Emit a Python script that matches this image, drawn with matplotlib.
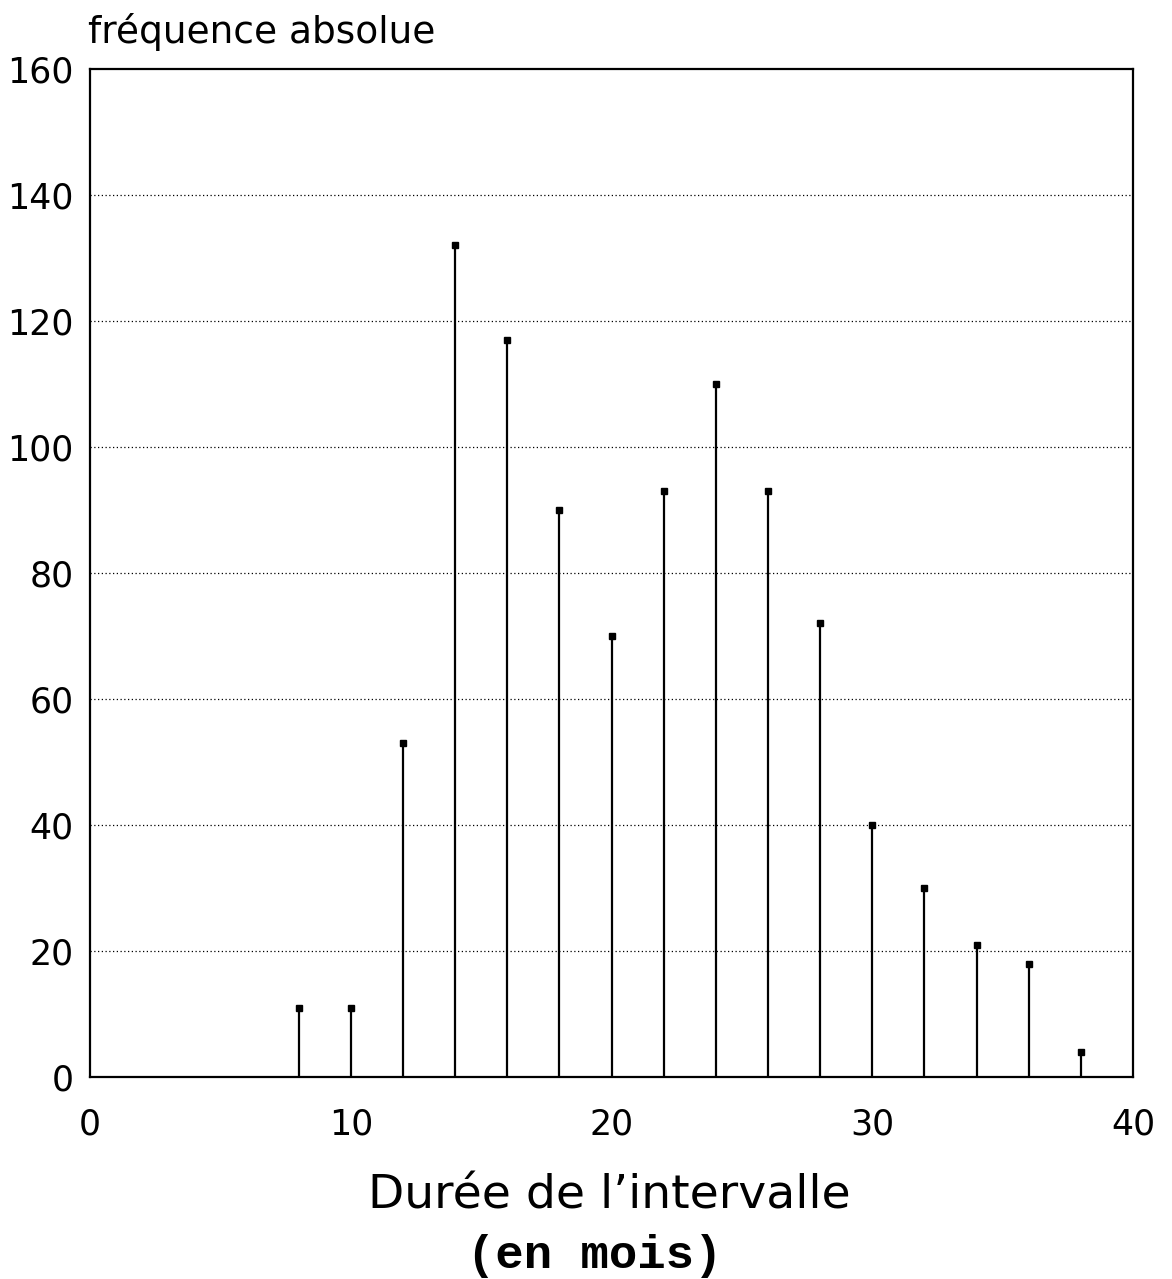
import matplotlib
matplotlib.use("Agg")
import matplotlib.pyplot as plt

durations = [8, 10, 12, 14, 16, 18, 20, 22, 24, 26, 28, 30, 32, 34, 36, 38]
frequencies = [11, 11, 53, 132, 117, 90, 70, 93, 110, 93, 72, 40, 30, 21, 18, 4]
xticks = [0, 10, 20, 30, 40]
yticks = [0, 20, 40, 60, 80, 100, 120, 140, 160]
grid_levels = [20, 40, 60, 80, 100, 120, 140]

fig = plt.figure(figsize=(11.72, 12.79), dpi=100)
ax = fig.add_axes([0.0768, 0.158, 0.890, 0.788])

ax.vlines(durations, 0, frequencies, colors="black", linewidth=1.6)
ax.plot(durations, frequencies, linestyle="none", marker="s", markersize=5,
        color="black")
for g in grid_levels:
    ax.axhline(g, color="black", linestyle=(0, (1, 2)), linewidth=0.9, zorder=0)

ax.set_xlim(0, 40)
ax.set_ylim(0, 160)
ax.set_xticks(xticks)
ax.set_yticks(yticks)
ax.tick_params(length=0, labelsize=25)
ax.tick_params(axis="y", pad=12)
ax.tick_params(axis="x", pad=22)
for s in ax.spines.values():
    s.set_linewidth(1.6)

fig.text(0.075, 0.975, "fréquence absolue", fontsize=27, ha="left", va="center")
fig.text(0.520, 0.065, "Durée de l\u2019intervalle", fontsize=34, ha="center", va="center")
fig.text(0.507, 0.018, "(en mois)", fontsize=34, ha="center", va="center",
         family="Liberation Mono", fontweight="bold")

fig.savefig("out.png", dpi=100)
